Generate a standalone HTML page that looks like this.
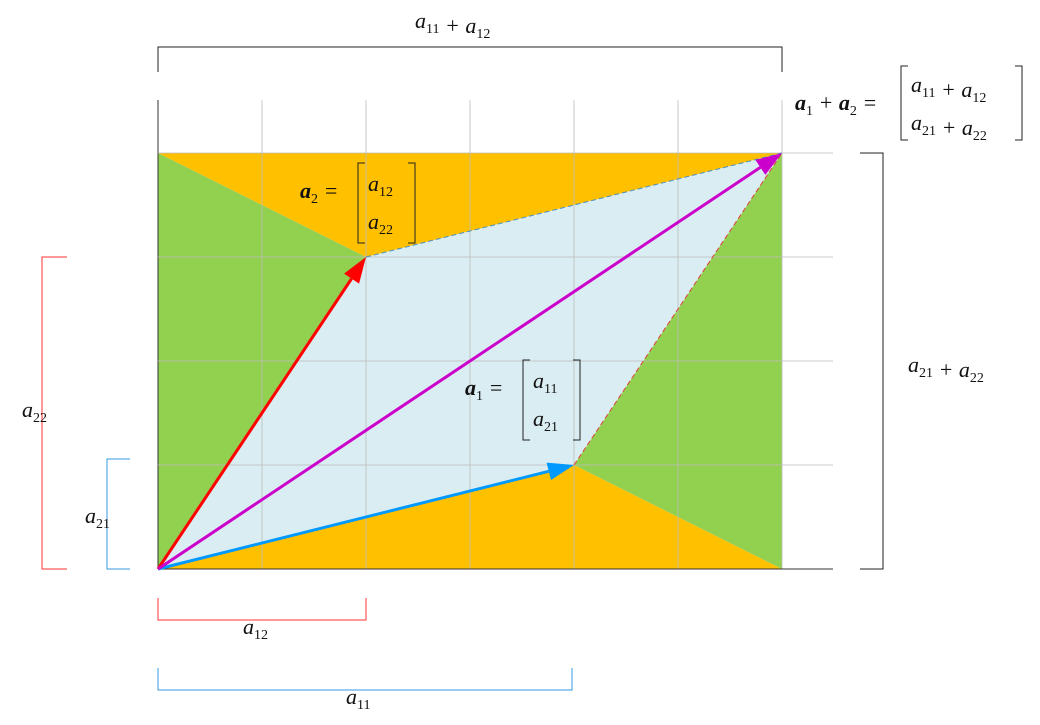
<!DOCTYPE html>
<html><head><meta charset="utf-8"><style>
body{margin:0;background:#fff;width:1040px;height:720px;overflow:hidden}
text{font-family:"Liberation Serif",serif;font-style:italic;fill:#111}
tspan.s{font-style:normal}
</style></head><body>
<svg id="c" width="1040" height="720" viewBox="0 0 1040 720"></svg>
<script>
const a1 = [4, 1];
const a2 = [2, 3];
const gridX = [0,1,2,3,4,5,6];
const gridY = [0,1,2,3,4];
const U = 104, X0 = 158, Y0 = 569;
const sx = v => X0 + v*U, sy = v => Y0 - v*U;
const svg = document.getElementById('c'), NS='http://www.w3.org/2000/svg';
function mk(tag, at, name, parent){const e=document.createElementNS(NS,tag);for(const k in at)e.setAttribute(k,at[k]);


(parent||svg).appendChild(e);return e;}
const s=[a1[0]+a2[0],a1[1]+a2[1]];
const P=(p)=>sx(p[0])+','+sy(p[1]);
const O=[0,0];
mk('polygon',{points:[P(O),P(a1),P(s),P(a2)].join(' '),fill:'#daedf3'},'parallelogram');
mk('polygon',{points:[P([0,s[1]]),P(s),P(a2)].join(' '),fill:'#ffc000'},'top-triangle');
mk('polygon',{points:[P(O),P([s[0],0]),P(a1)].join(' '),fill:'#ffc000'},'bottom-triangle');
mk('polygon',{points:[P([0,s[1]]),P(a2),P(O)].join(' '),fill:'#92d050'},'left-triangle');
mk('polygon',{points:[P(s),P([s[0],0]),P(a1)].join(' '),fill:'#92d050'},'right-triangle');
gridX.forEach(g=>mk('line',{x1:sx(g),x2:sx(g),y1:100,y2:Y0,stroke:g==0?'#333':'#bbb','stroke-width':g==0?1:0.8},'grid-v'));
gridY.forEach(g=>mk('line',{x1:X0,x2:833,y1:sy(g),y2:sy(g),stroke:g==0?'#333':'#bbb','stroke-width':g==0?1:0.8},'grid-h'));
mk('line',{x1:sx(a2[0]),y1:sy(a2[1]),x2:sx(s[0]),y2:sy(s[1]),stroke:'#4a90c0','stroke-dasharray':'5,3'},'dash-top');
mk('line',{x1:sx(a1[0]),y1:sy(a1[1]),x2:sx(s[0]),y2:sy(s[1]),stroke:'#e04040','stroke-dasharray':'5,3'},'dash-right');
function arrow(v,col,name){const x2=sx(v[0]),y2=sy(v[1]);const dx=x2-X0,dy=y2-Y0,L=Math.hypot(dx,dy),ux=dx/L,uy=dy/L;
const bx=x2-ux*26,by=y2-uy*26;
mk('line',{x1:X0,y1:Y0,x2:bx,y2:by,stroke:col,'stroke-width':3},name+'-shaft');
mk('polygon',{points:`${x2},${y2} ${bx-uy*9},${by+ux*9} ${bx+uy*9},${by-ux*9}`,fill:col},name+'-head');}
arrow(a2,'#ff0000','a2-arrow');arrow(a1,'#0099ff','a1-arrow');arrow(s,'#cc00cc','sum-arrow');
function br(pts,col,name){mk('polyline',{points:pts,fill:'none',stroke:col,'stroke-width':1},name);}
br(`158,72 158,47 782,47 782,72`,'#222','top-bracket');
br(`860,${sy(s[1])} 883,${sy(s[1])} 883,${Y0} 860,${Y0}`,'#222','right-bracket');
br(`67,${sy(a2[1])} 42,${sy(a2[1])} 42,${Y0} 67,${Y0}`,'#ff3333','a22-bracket');
br(`130,459 107,459 107,${Y0} 130,${Y0}`,'#3399dd','a21-bracket');
br(`158,598 158,620 ${sx(a2[0])},620 ${sx(a2[0])},598`,'#ff3333','a12-bracket');
br(`158,668 158,690 ${sx(a1[0])-2},690 ${sx(a1[0])-2},668`,'#3399dd','a11-bracket');
function t(x,y,html,name,size){const e=mk('text',{x:x,y:y,'font-size':size||22},name);e.innerHTML=html;return e;}
const sub=(b,s)=>`${b}<tspan class="s" font-size="14" dy="5">${s}</tspan><tspan dy="-5"></tspan>`;
t(415,28,sub('a','11')+' + '+sub('a','12'),'top-label');
t(908,372,sub('a','21')+' + '+sub('a','22'),'right-label');
t(22,417,sub('a','22'),'a22-label');
t(85,523,sub('a','21'),'a21-label');
t(243,634,sub('a','12'),'a12-label');
t(346,704,sub('a','11'),'a11-label');
function mat(x,y,name,lbl,r1,r2,w){t(x,y+33,`<tspan font-weight="bold">a</tspan><tspan class="s" font-size="14" dy="5">${lbl}</tspan><tspan dy="-5"> =</tspan>`,name+'-name');
const L=x+58;
br(`${L+7},${y-2} ${L},${y-2} ${L},${y+78} ${L+7},${y+78}`,'#222',name+'-lbracket');
br(`${L+w-7},${y-2} ${L+w},${y-2} ${L+w},${y+78} ${L+w-7},${y+78}`,'#222',name+'-rbracket');
t(L+10,y+26,r1,name+'-row1');t(L+10,y+64,r2,name+'-row2');}
mat(300,165,'a2-matrix','2',sub('a','12'),sub('a','22'),57);
mat(465,362,'a1-matrix','1',sub('a','11'),sub('a','21'),57);
t(795,110,`<tspan font-weight="bold">a</tspan><tspan class="s" font-size="14" dy="5">1</tspan><tspan dy="-5"> + </tspan><tspan font-weight="bold">a</tspan><tspan class="s" font-size="14" dy="5">2</tspan><tspan dy="-5"> =</tspan>`,'sum-name');
br(`908,66 901,66 901,140 908,140`,'#222','sum-lbracket');
br(`1015,66 1022,66 1022,140 1015,140`,'#222','sum-rbracket');
t(911,92,sub('a','11')+' + '+sub('a','12'),'sum-row1');
t(911,130,sub('a','21')+' + '+sub('a','22'),'sum-row2');
</script>
</body></html>
